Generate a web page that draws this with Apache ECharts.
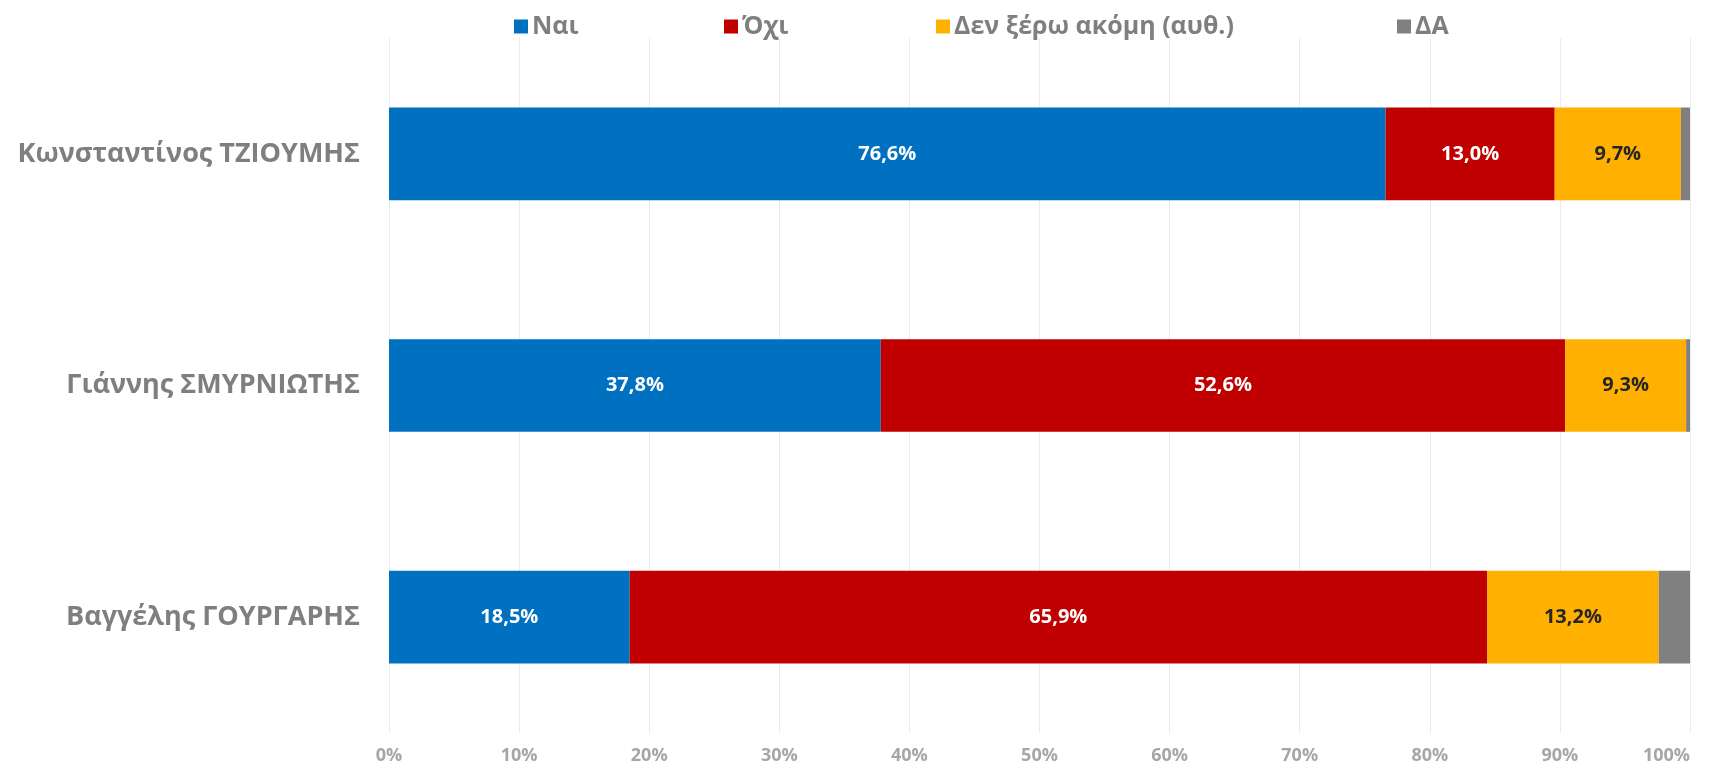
<!DOCTYPE html>
<html>
<head>
<meta charset="utf-8">
<script src="https://cdn.jsdelivr.net/npm/echarts@6/dist/echarts.min.js"></script>
<style>
  html, body { margin: 0; padding: 0; background: #fff; }
  #chart { width: 1722px; height: 771px; }
</style>
</head>
<body>
<div id="chart"></div>
<script>
const categories = ["Κωνσταντίνος ΤΖΙΟΥΜΗΣ", "Γιάννης ΣΜΥΡΝΙΩΤΗΣ", "Βαγγέλης ΓΟΥΡΓΑΡΗΣ"];
const seriesNames = ["Ναι", "Όχι", "Δεν ξέρω ακόμη (αυθ.)", "ΔΑ"];
const yesValues = [76.6, 37.8, 18.5];
const noValues = [13.0, 52.6, 65.9];
const dontKnowValues = [9.7, 9.3, 13.2];
const naValues = [0.7, 0.3, 2.4];
const xTicks = [0, 10, 20, 30, 40, 50, 60, 70, 80, 90, 100];

const FONT = "'Open Sans', 'Noto Sans', sans-serif";
const colors = ["#0070C0", "#C00000", "#FFB000", "#808080"];
const labelColors = ["#ffffff", "#ffffff", "#262626", "#262626"];
const allValues = [yesValues, noValues, dontKnowValues, naValues];
// x position of each legend entry (Excel spreads them unevenly)
const legendLeft = [509, 719, 931, 1392];

const chart = echarts.init(document.getElementById("chart"));

const series = seriesNames.map((name, i) => ({
  name: name,
  type: "bar",
  stack: "total",
  barWidth: "40%",
  data: allValues[i],
  itemStyle: { color: colors[i] },
  label: {
    show: i < 3,
    position: "inside",
    color: labelColors[i],
    fontFamily: FONT,
    fontWeight: "bold",
    fontSize: 20,
    formatter: p => p.value.toFixed(1).replace(".", ",") + "%",
  },
}));

const legends = seriesNames.map((name, i) => ({
  data: [name],
  top: 9,
  left: legendLeft[i],
  itemGap: 0,
  itemWidth: 14,
  itemHeight: 14,
  icon: "rect",
  textStyle: {
    color: "#7F7F7F",
    fontFamily: FONT,
    fontWeight: "bold",
    fontSize: 25,
    padding: [0, 0, 0, -1],
  },
}));

chart.setOption({
  animation: false,
  color: colors,
  legend: legends,
  grid: { left: 389, right: 32, top: 38, bottom: 38, containLabel: false },
  xAxis: {
    type: "value",
    min: 0,
    max: 100,
    interval: 10,
    axisLine: { show: false },
    axisTick: { show: false },
    splitLine: { show: true, lineStyle: { color: "#EBEBEB", width: 1 } },
    axisLabel: {
      margin: 14,
      color: "#A6A6A6",
      fontFamily: FONT,
      fontWeight: "bold",
      fontSize: 18,
      alignMaxLabel: "right",
      formatter: v => (xTicks.includes(v) ? v + "%" : ""),
    },
  },
  yAxis: {
    type: "category",
    data: categories,
    inverse: true,
    axisLine: { show: false },
    axisTick: { show: false },
    axisLabel: {
      margin: 29,
      color: "#7F7F7F",
      fontFamily: FONT,
      fontWeight: "bold",
      fontSize: 27,
    },
  },
  series: series,
});
</script>
</body>
</html>
